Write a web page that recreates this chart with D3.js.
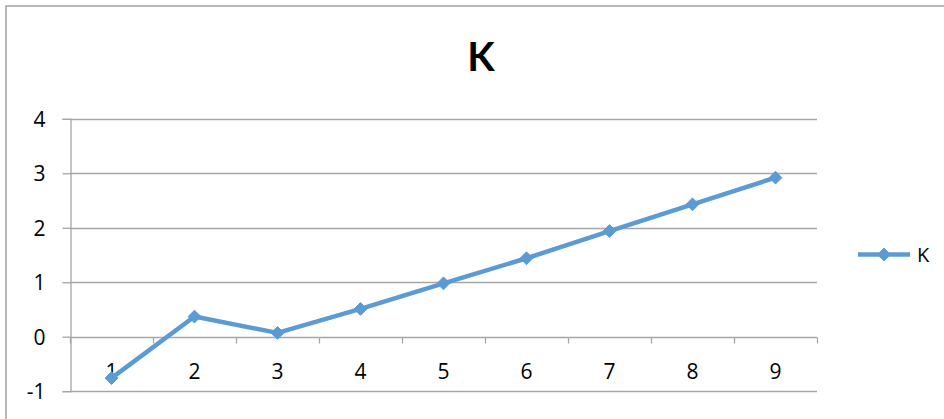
<!DOCTYPE html>
<html>
<head>
<meta charset="utf-8">
<script src="https://cdn.jsdelivr.net/npm/d3@7"></script>
<style>
  html, body { margin: 0; padding: 0; background: #fff; }
  svg { display: block; }
  text { font-family: "Open Sans", Lato, sans-serif; fill: #000; }
</style>
</head>
<body>
<svg id="chart" width="944" height="419"></svg>
<script>
const title = "K";
const seriesName = "K";
const categories = ["1", "2", "3", "4", "5", "6", "7", "8", "9"];
const values = [-0.76, 0.37, 0.07, 0.51, 0.98, 1.44, 1.94, 2.43, 2.92];
const yTicks = [-1, 0, 1, 2, 3, 4];

const svg = d3.select("#chart");
const W = 944, H = 419;
const gridColor = "#a6a6a6";
const lineColor = "#5b9bd5";

// outer chart border
svg.append("rect")
  .attr("x", 6).attr("y", 6).attr("width", W + 10).attr("height", H + 10)
  .attr("fill", "none").attr("stroke", "#a0a0a0").attr("stroke-width", 1.5);

const plot = { left: 70, right: 817, top: 118.8, bottom: 391.2 };

const x = d3.scaleBand().domain(categories).range([plot.left, plot.right]).padding(0);
const y = d3.scaleLinear().domain([-1, 4]).range([plot.bottom, plot.top]);

// title
svg.append("text")
  .attr("x", 481).attr("y", 71)
  .attr("text-anchor", "middle")
  .style("font-family", "Lato, sans-serif")
  .attr("font-size", 40).attr("font-weight", "bold")
  .text(title);

// gridlines
svg.append("g").selectAll("line").data(yTicks).join("line")
  .attr("x1", plot.left).attr("x2", plot.right)
  .attr("y1", d => Math.round(y(d)) + 0.5).attr("y2", d => Math.round(y(d)) + 0.5)
  .attr("stroke", gridColor).attr("stroke-width", 1.3);

// y axis
const yAxis = d3.axisLeft(y).tickValues(yTicks).tickSize(8).tickPadding(17).tickFormat(d => String(d));
const gy = svg.append("g").attr("transform", `translate(${plot.left + 0.5},0)`).call(yAxis);
gy.attr("font-size", null).attr("font-family", null);
gy.select(".domain").attr("stroke", gridColor).attr("stroke-width", 1.3);
gy.selectAll(".tick line").attr("stroke", gridColor).attr("stroke-width", 1.3);
gy.selectAll(".tick text").style("font-size", "21px").attr("fill", "#000").attr("dy", "0.36em");

// x axis at y = 0 (tick marks at category boundaries)
const boundaries = categories.map(c => x(c)).concat([plot.right]);
const y0 = Math.round(y(0)) + 0.5;
svg.append("g").selectAll("line").data(boundaries).join("line")
  .attr("x1", d => Math.round(d) + 0.5).attr("x2", d => Math.round(d) + 0.5)
  .attr("y1", y0).attr("y2", y0 + 6)
  .attr("stroke", gridColor).attr("stroke-width", 1.3);

svg.append("g").selectAll("text").data(categories).join("text")
  .attr("x", d => x(d) + x.bandwidth() / 2)
  .attr("y", 378.5)
  .attr("text-anchor", "middle")
  .style("font-size", "21px")
  .text(d => d);

// line
const pts = categories.map((c, i) => [x(c) + x.bandwidth() / 2, y(values[i])]);
svg.append("path")
  .datum(pts)
  .attr("d", d3.line())
  .attr("fill", "none").attr("stroke", lineColor).attr("stroke-width", 4.5)
  .attr("stroke-linejoin", "round");

const diamond = d3.symbol().type(d3.symbolDiamond2).size(105);
svg.append("g").selectAll("path").data(pts).join("path")
  .attr("transform", d => `translate(${d[0]},${d[1]})`)
  .attr("d", diamond())
  .attr("fill", lineColor).attr("stroke", lineColor).attr("stroke-width", 1);

// legend
const lg = svg.append("g").attr("transform", "translate(858,254.5)");
lg.append("line").attr("x1", 0).attr("x2", 52).attr("y1", 0).attr("y2", 0)
  .attr("stroke", lineColor).attr("stroke-width", 4.5);
lg.append("path").attr("transform", "translate(26,0)").attr("d", diamond())
  .attr("fill", lineColor).attr("stroke", lineColor).attr("stroke-width", 1);
lg.append("text").attr("x", 59).attr("y", 7).style("font-size", "20px").text(seriesName);
</script>
</body>
</html>
